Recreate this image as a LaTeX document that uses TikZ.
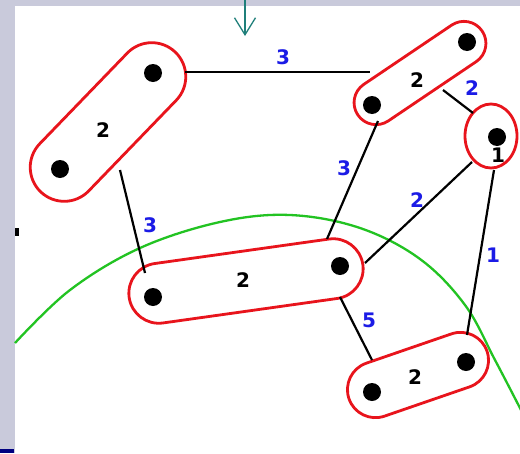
\documentclass[tikz,border=0pt]{standalone}
\usepackage{fontspec}
\setmainfont{DejaVu Sans}
\usepackage{tikz}
\usetikzlibrary{shapes.misc}
\usetikzlibrary{arrows.meta}

\definecolor{frame}{HTML}{C9CADB}
\definecolor{ovalred}{HTML}{E8141C}
\definecolor{cutgreen}{HTML}{22C322}
\definecolor{wblue}{HTML}{1B1BE6}
\definecolor{tealarrow}{HTML}{1F7F7A}

\begin{document}
\begin{tikzpicture}[x=1pt,y=-1pt,
    group/.style={draw=ovalred,line width=2.8pt,rounded rectangle,inner sep=0pt},
    edge/.style={-,black,line width=2.2pt},
    vtx/.style={circle,fill=black,inner sep=0pt,minimum size=18pt},
    cnt/.style={font=\fontsize{20}{20}\selectfont\bfseries,text=black},
    wt/.style={font=\fontsize{20}{20}\selectfont\bfseries,text=wblue}]

  \fill[frame] (0,0) rectangle (520,453);
  \fill[white] (15,6) rectangle (520,453);
  \fill[black] (15,228) rectangle (19,236);
  \fill[blue!50!black] (0,449) rectangle (14,453);
  \useasboundingbox (0,0) rectangle (520,453);

  \draw[tealarrow,line width=1.3pt,-{Straight Barb[length=17pt,width=21pt]}] (245,-2) -- (245,36);

  \draw[cutgreen,line width=2.3pt] plot[smooth,tension=0.6] coordinates {
    (15,343) (70,290) (140,248) (220,222) (290,215)
    (360,228) (420,259) (465,305) (495,360) (521,410)};

  % groups
  \node[group,rotate=46,minimum width=194pt,minimum height=68pt] (A) at (108,122) {};
  \node[group,rotate=34,minimum width=150pt,minimum height=44pt] (B) at (420,73) {};
  \draw[ovalred,line width=2.8pt] (491,136) ellipse (26 and 32);
  \node[group,rotate=8,minimum width=236pt,minimum height=60pt] (D) at (246,281) {};
  \node[group,rotate=19,minimum width=146pt,minimum height=56pt] (E) at (418,375) {};

  \node[cnt] (nA) at (103,130) {2};
  \node[cnt] (nB) at (417,80) {2};
  \node[cnt] (nC) at (498,155) {1};
  \node[cnt] (nD) at (243,280) {2};
  \node[cnt] (nE) at (415,377) {2};

  \node[vtx] (a1) at (153,73) {};
  \node[vtx] (a2) at (60,169) {};
  \node[vtx] (b1) at (467,42) {};
  \node[vtx] (b2) at (372,105) {};
  \node[vtx] (c1) at (497,137) {};
  \node[vtx] (d1) at (153,297) {};
  \node[vtx] (d2) at (340,266) {};
  \node[vtx] (e1) at (372,392) {};
  \node[vtx] (e2) at (466,362) {};

  % connectors between groups
  \coordinate (ab1) at (185,72);
  \coordinate (ab2) at (370,72);
  \coordinate (ad1) at (120,170);
  \coordinate (ad2) at (145,273);
  \coordinate (bc1) at (443,90);
  \coordinate (bc2) at (473,113);
  \coordinate (bd1) at (378,121);
  \coordinate (bd2) at (327,239);
  \coordinate (cd1) at (472,162);
  \coordinate (cd2) at (365,263);
  \coordinate (ce1) at (494,170);
  \coordinate (ce2) at (467,335);
  \coordinate (de1) at (340,297);
  \coordinate (de2) at (372,360);

  \draw[edge] (ab1) -- (ab2);
  \draw[edge] (ad1) -- (ad2);
  \draw[edge] (bc1) -- (bc2);
  \draw[edge] (bd1) -- (bd2);
  \draw[edge] (cd1) -- (cd2);
  \draw[edge] (ce1) -- (ce2);
  \draw[edge] (de1) -- (de2);

  \node[wt] (wab) at (283,57) {3};
  \node[wt] (wad) at (150,225) {3};
  \node[wt] (wbc) at (472,88) {2};
  \node[wt] (wbd) at (344,168) {3};
  \node[wt] (wcd) at (417,200) {2};
  \node[wt] (wce) at (493,255) {1};
  \node[wt] (wde) at (369,320) {5};

\end{tikzpicture}
\end{document}
